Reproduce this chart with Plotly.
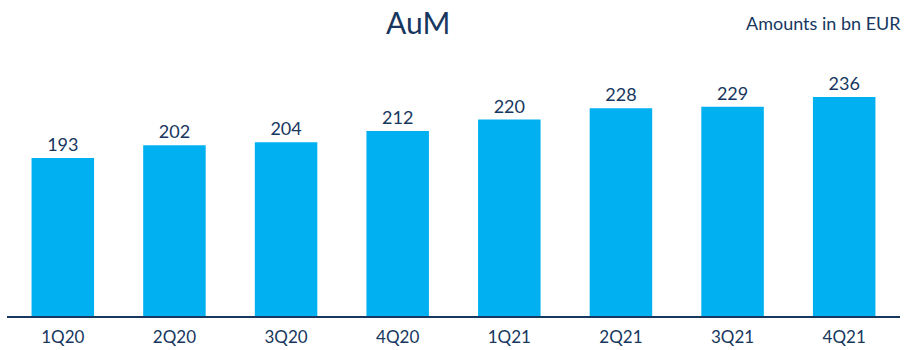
import plotly.graph_objects as go

quarters = ["1Q20", "2Q20", "3Q20", "4Q20", "1Q21", "2Q21", "3Q21", "4Q21"]
aum = [193, 202, 204, 212, 220, 228, 229, 236]

NAVY = "#17375E"
CYAN = "#00B0F0"
FONT = "Lato, 'Open Sans', sans-serif"

W, H = 909, 350
ML, MR, MT, MB = 7, 9, 40, 34

fig = go.Figure(
    go.Bar(
        x=quarters,
        y=aum,
        marker=dict(color=CYAN, line=dict(width=0)),
        text=aum,
        texttemplate="%{text}",
        textposition="outside",
        textfont=dict(family=FONT, size=18, color=NAVY),
        cliponaxis=False,
        hoverinfo="skip",
    )
)


def px_to_paper(px_x, px_y):
    return (px_x - ML) / (W - ML - MR), 1 + (MT - px_y) / (H - MT - MB)


tx, ty = px_to_paper(418, 22)
ax_, ay_ = px_to_paper(903, 23)

fig.update_layout(
    width=W,
    height=H,
    margin=dict(l=ML, r=MR, t=MT, b=MB, autoexpand=False),
    plot_bgcolor="white",
    paper_bgcolor="white",
    bargap=0.44,
    showlegend=False,
    annotations=[
        dict(text="AuM", x=tx, y=ty, xref="paper", yref="paper", showarrow=False,
             xanchor="center", yanchor="middle",
             font=dict(family=FONT, size=30, color=NAVY)),
        dict(text="Amounts in bn EUR", x=ax_, y=ay_, xref="paper", yref="paper",
             showarrow=False, xanchor="right", yanchor="middle",
             font=dict(family=FONT, size=18, color=NAVY)),
    ],
)

fig.update_xaxes(
    automargin=False,
    showline=True,
    linecolor=NAVY,
    linewidth=2,
    showgrid=False,
    ticks="",
    ticklabelstandoff=5,
    tickfont=dict(family=FONT, size=17, color=NAVY),
)
fig.update_yaxes(
    visible=False,
    automargin=False,
    range=[81.6, 81.6 + (H - MT - MB) / 1.419],
    showgrid=False,
    zeroline=False,
)

fig.write_html("out.html")
